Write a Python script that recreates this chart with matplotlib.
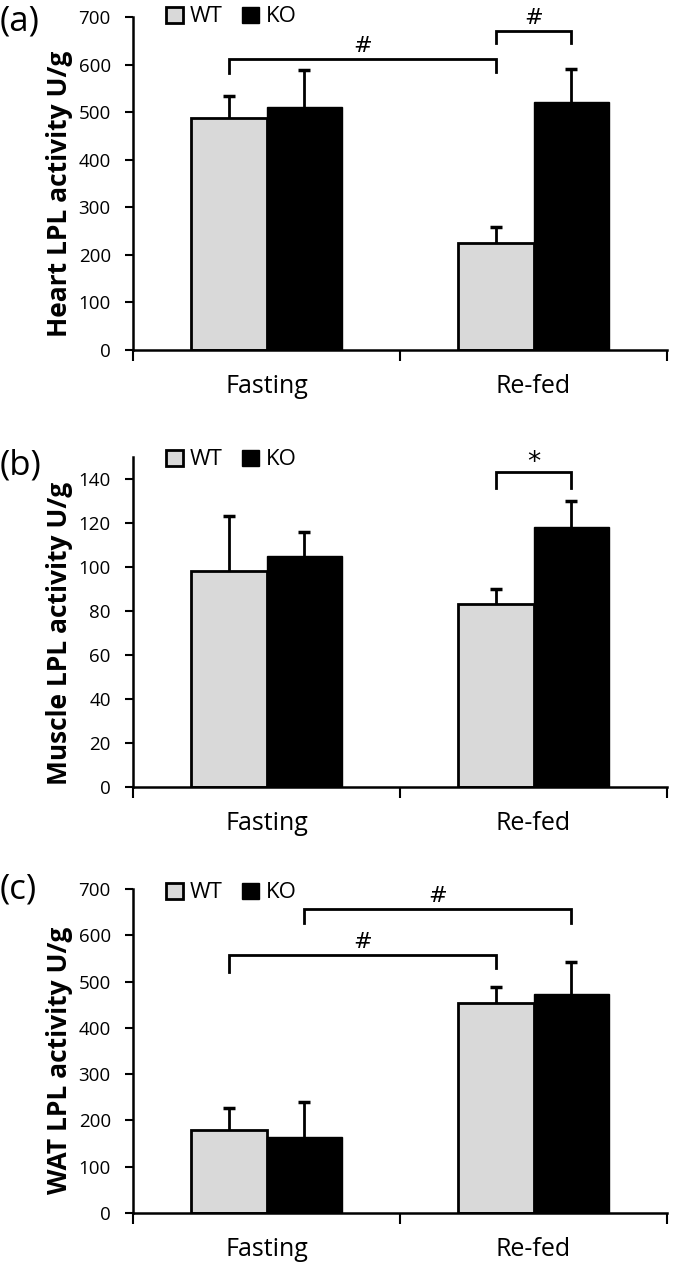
import matplotlib
matplotlib.use("Agg")
import matplotlib.pyplot as plt
from matplotlib.patches import Patch
import numpy as np

plt.rcParams['font.family'] = ['Open Sans', 'DejaVu Sans']

categories = ["Fasting", "Re-fed"]
groups = ["WT", "KO"]

heart_wt = [487, 224]
heart_wt_err = [47, 34]
heart_ko = [511, 521]
heart_ko_err = [77, 69]

muscle_wt = [98, 83]
muscle_wt_err = [25, 7]
muscle_ko = [105, 118]
muscle_ko_err = [11, 12]

wat_wt = [179, 453]
wat_wt_err = [47, 35]
wat_ko = [164, 473]
wat_ko_err = [76, 70]

# brackets: (category_i, group_i, category_j, group_j, bar level, left drop, right drop, text)
heart_brackets = [(0, 0, 1, 0, 611, 582, 584, "#"), (1, 0, 1, 1, 670, 645, 645, "#")]
muscle_brackets = [(1, 0, 1, 1, 143, 136, 136, "*")]
wat_brackets = [(0, 0, 1, 0, 557, 521, 529, "#"), (0, 1, 1, 1, 656, 626, 626, "#")]

ylabels = ["Heart LPL activity U/g", "Muscle LPL activity U/g", "WAT LPL activity U/g"]
panels = ["(a)", "(b)", "(c)"]

W, H = 675, 1278
fig = plt.figure(figsize=(W / 100, H / 100), dpi=100)

# axes pixel boxes: left, top, right, bottom
boxes = [(133, 17, 667, 350), (133, 457, 667, 787), (133, 889, 667, 1213)]

data = [
    (heart_wt, heart_wt_err, heart_ko, heart_ko_err, heart_brackets, (0, 700), np.arange(0, 701, 100)),
    (muscle_wt, muscle_wt_err, muscle_ko, muscle_ko_err, muscle_brackets, (0, 150), np.arange(0, 141, 20)),
    (wat_wt, wat_wt_err, wat_ko, wat_ko_err, wat_brackets, (0, 700), np.arange(0, 701, 100)),
]

bw = 0.283
x = np.arange(len(categories))
label_y = [21, 466, 889]
ylab_pos = [0.47, 0.465, 0.47]
leg_y = [17, 460, 893]

for k, (box, d) in enumerate(zip(boxes, data)):
    l, t, r, b = box
    ax = fig.add_axes([l / W, 1 - b / H, (r - l) / W, (b - t) / H])
    wt, wte, ko, koe, brackets, ylim, yt = d
    ax.bar(x - bw / 2, wt, bw, color='#d9d9d9', edgecolor='black', linewidth=2, zorder=2)
    ax.bar(x + bw / 2, ko, bw, color='black', edgecolor='black', linewidth=1, zorder=2)
    for xs, vals, errs in [(x - bw / 2, wt, wte), (x + bw / 2, ko, koe)]:
        _, caps, _ = ax.errorbar(xs, vals, yerr=[np.zeros(2), errs], fmt='none', ecolor='black',
                                 elinewidth=2, capsize=4, capthick=2.5, zorder=3)
        caps[0].set_visible(False)
    for (ci, gi, cj, gj, lev, d1, d2, txt) in brackets:
        x1 = x[ci] + (gi - 0.5) * bw
        x2 = x[cj] + (gj - 0.5) * bw
        ax.plot([x1, x1, x2, x2], [d1, lev, lev, d2], color='black', lw=2, zorder=3,
                solid_joinstyle='miter', clip_on=False)
        span = ylim[1] - ylim[0]
        fs = 16 if txt == '#' else 19
        ax.text((x1 + x2) / 2, lev + span * (0.01 if txt == '#' else -0.01), txt,
                ha='center', va='bottom', fontsize=fs, family='DejaVu Sans')
    ax.set_xlim(-0.5, 1.5)
    ax.set_ylim(*ylim)
    ax.set_yticks(yt)
    ax.tick_params(axis='y', direction='out', length=6, width=1.5, labelsize=13.5, pad=10)
    ax.set_xticks(x)
    ax.set_xticklabels(categories, fontsize=18)
    ax.tick_params(axis='x', which='major', length=0, pad=17)
    ax.set_xticks([-0.5, 0.5, 1.5], minor=True)
    ax.tick_params(axis='x', which='minor', direction='out', length=8, width=1.5)
    for s in ['top', 'right']:
        ax.spines[s].set_visible(False)
    for s in ['left', 'bottom']:
        ax.spines[s].set_linewidth(1.8)
    ax.set_ylabel(ylabels[k], fontsize=19, fontweight='bold')
    ax.yaxis.set_label_coords(-0.112, ylab_pos[k])
    handles = [Patch(facecolor='#d9d9d9', edgecolor='black', linewidth=2, label=groups[0]),
               Patch(facecolor='black', edgecolor='black', label=groups[1])]
    ax.legend(handles=handles, loc='center left',
              bbox_to_anchor=(0.045, (b - leg_y[k]) / (b - t)),
              ncol=2, frameon=False, fontsize=16, handlelength=0.75, handleheight=0.75,
              handletextpad=0.3, columnspacing=0.9, borderaxespad=0)
    fig.text(0.0, 1 - label_y[k] / H, panels[k], fontsize=25, va='center', ha='left')

fig.savefig("out.png", dpi=100)
